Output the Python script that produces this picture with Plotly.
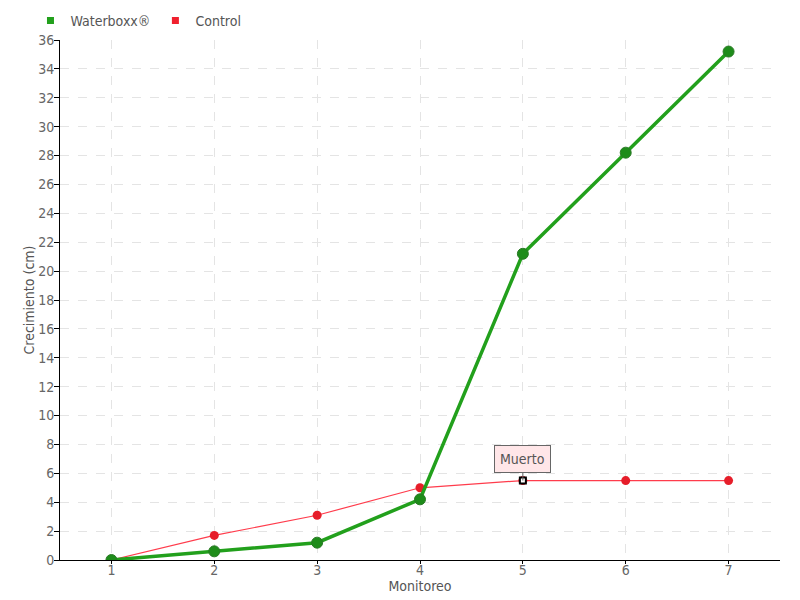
import plotly.graph_objects as go

monitoreo = [1, 2, 3, 4, 5, 6, 7]
waterboxx = [0, 0.6, 1.2, 4.2, 21.2, 28.2, 35.2]
control = [0, 1.7, 3.1, 5.0, 5.5, 5.5, 5.5]
y_ticks = list(range(0, 37, 2))

FONT = "DejaVu Sans Condensed, DejaVu Sans"
GREEN = "#22a01c"
RED = "#f0202e"

fig = go.Figure()
fig.add_trace(go.Scatter(
    x=monitoreo, y=control, name="Control", mode="lines+markers", showlegend=False,
    line=dict(color="#ff3c4c", width=1.2),
    marker=dict(color="#e61e2a", size=9, line=dict(width=0)),
))
fig.add_trace(go.Scatter(
    x=monitoreo, y=waterboxx, name="Waterboxx®", mode="lines+markers", showlegend=False,
    line=dict(color=GREEN, width=3.5),
    marker=dict(color="#1e8c1a", size=11, line=dict(color="#2a7a26", width=1)),
))
# legend entries (square markers)
fig.add_trace(go.Scatter(
    x=[None], y=[None], name="Waterboxx®", mode="markers",
    marker=dict(symbol="square", color=GREEN, size=7),
))
fig.add_trace(go.Scatter(
    x=[None], y=[None], name="Control", mode="markers",
    marker=dict(symbol="square", color=RED, size=7),
))
# highlighted point
fig.add_trace(go.Scatter(
    x=[monitoreo[4]], y=[control[4]], mode="markers", showlegend=False,
    marker=dict(symbol="square", color="white", size=6, line=dict(color="black", width=2)),
    hoverinfo="skip",
))
fig.add_annotation(
    x=monitoreo[4], y=control[4], text="Muerto", showarrow=True,
    arrowhead=0, arrowwidth=1, arrowcolor="#666", ax=0, ay=-22,
    bgcolor="#ffe6e8", bordercolor="#666", borderwidth=1, borderpad=5,
    font=dict(family=FONT, size=14, color="#555"),
)

fig.update_layout(
    width=800, height=600,
    margin=dict(l=52, r=28, t=32, b=48, autoexpand=False),
    paper_bgcolor="white", plot_bgcolor="white",
    font=dict(family=FONT, size=14, color="#555"),
    legend=dict(orientation="h", x=-0.041, xanchor="left", y=1.0365, yanchor="middle",
                font=dict(size=14, color="#555"), itemwidth=30,
                tracegroupgap=0, bgcolor="rgba(0,0,0,0)"),
    showlegend=True,
    xaxis=dict(
        range=[0.5, 7.5], tickvals=monitoreo, ticks="outside", ticklen=3,
        tickcolor="black", showline=True, linecolor="black", linewidth=1,
        showgrid=True, gridcolor="#e4e4e4", griddash="dash", zeroline=False,
        automargin=False, ticklabelstandoff=-6,
        title=dict(text="Monitoreo", standoff=0, font=dict(size=14, color="#555")),
        tickfont=dict(size=14, color="#666"),
    ),
    yaxis=dict(
        range=[0, 36], tickvals=y_ticks, ticks="outside", ticklen=5,
        tickcolor="black", showline=True, linecolor="black", linewidth=1,
        showgrid=True, gridcolor="#e4e4e4", griddash="dash", zeroline=False,
        automargin=False, ticklabelstandoff=-3,
        title=dict(text="Crecimiento (cm)", standoff=0, font=dict(size=14, color="#555")),
        tickfont=dict(size=14, color="#666"),
    ),
)

fig.write_html("out.html")
